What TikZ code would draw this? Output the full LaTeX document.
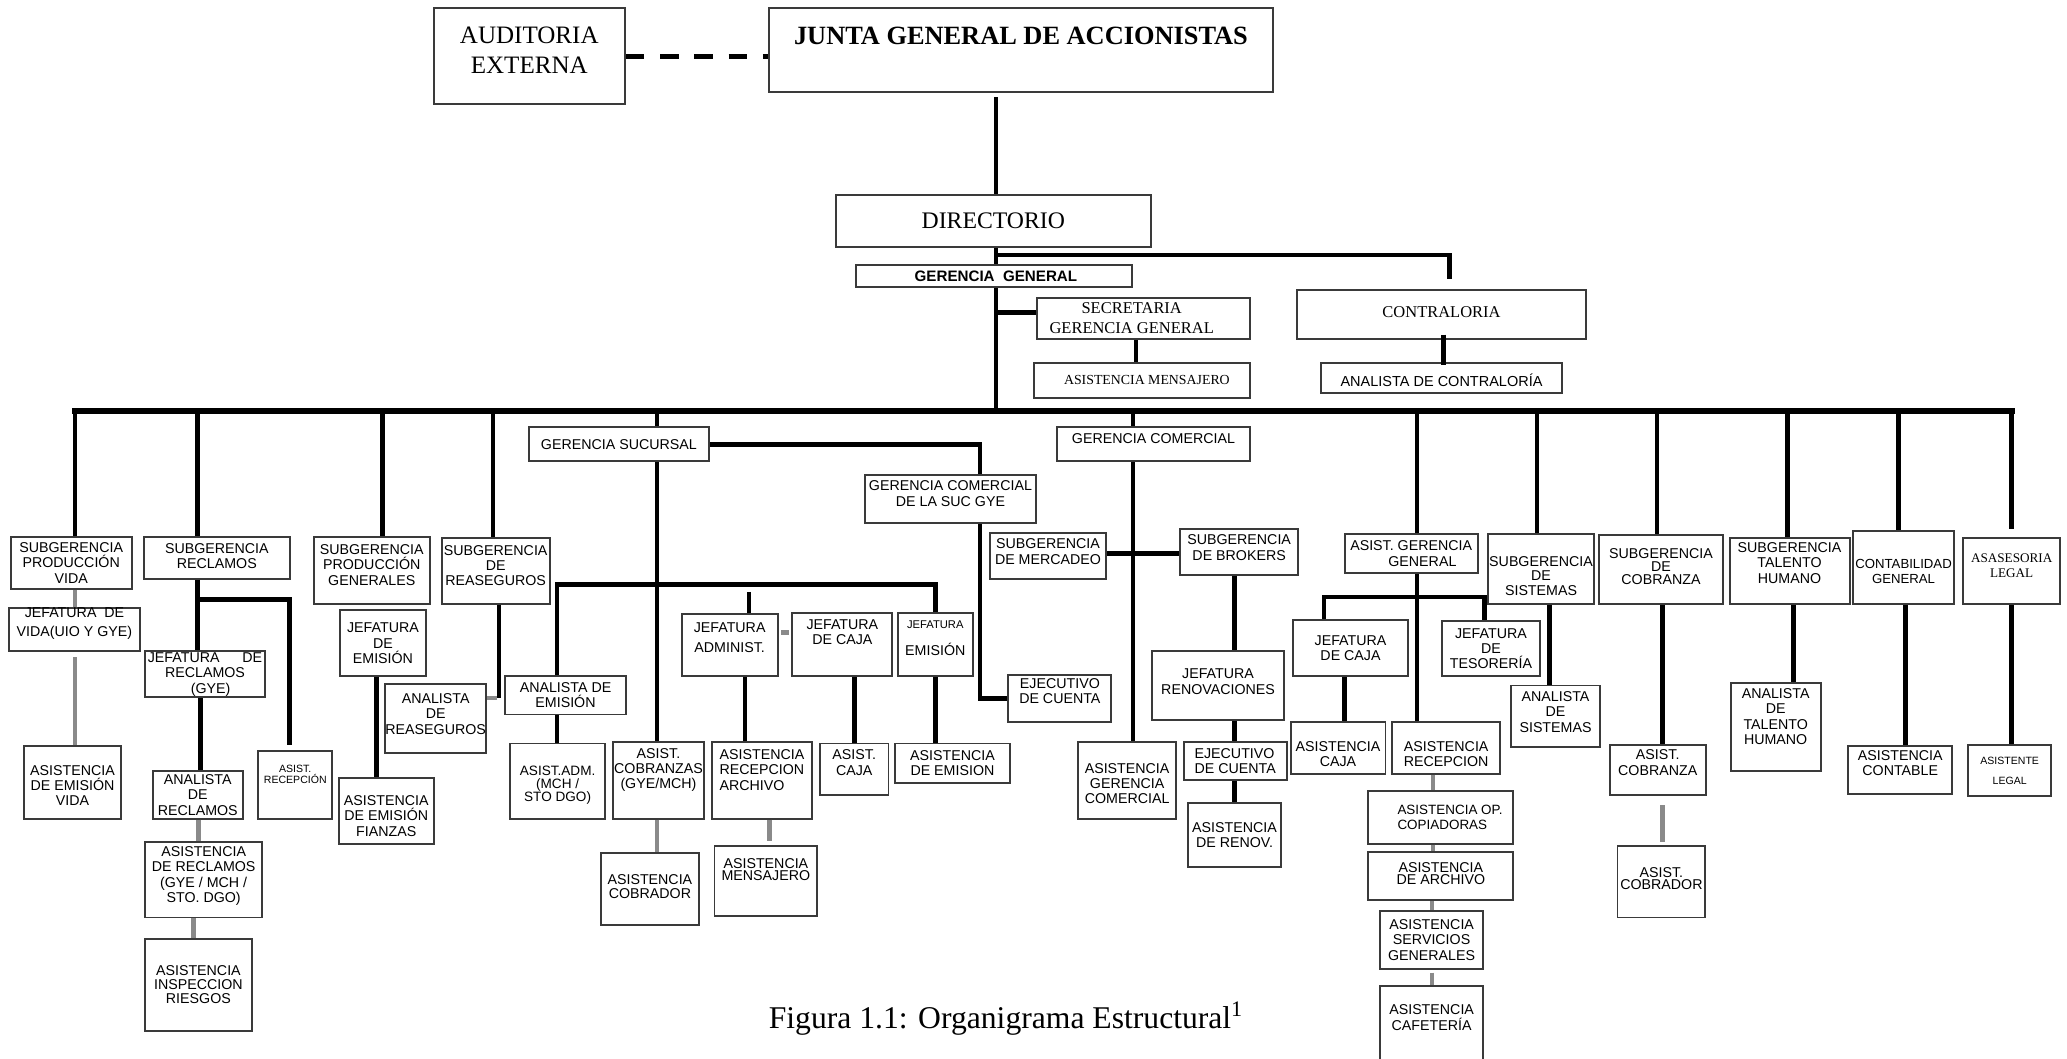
\documentclass[tikz,border=0pt]{standalone}
\usepackage{fontspec}
\setmainfont{Liberation Serif}
\setsansfont{Liberation Sans}
\definecolor{edgegray}{HTML}{3A3A3A}
\definecolor{linegray}{HTML}{8A8A8A}
\newcommand\orgsf[2]{\sffamily\fontsize{#1}{#2}\selectfont}
\newcommand\orgrm[2]{\rmfamily\fontsize{#1}{#2}\selectfont}
% \orgbox[text options]{name}{x1}{y1}{x2}{y2}{text}
\newcommand\orgbox[7][]{%
  \node[box,minimum width={#5-#3},minimum height={#6-#4}] (#2) at ({(#3+#5)/2},{(#4+#6)/2}) {};
  \node[txt,#1] (#2-t) at (#2.center) {#7};}
\begin{document}
\begin{tikzpicture}[x=1pt,y=-1pt,
  box/.style={draw=edgegray,line width=1.5pt,inner sep=0pt},
  txt/.style={inner sep=0pt,align=center,font=\orgsf{10.8}{11.6}},
  conn/.style={line width=3.5pt},
  bus/.style={line width=4.5pt,line cap=rect},
  gconn/.style={line width=3.5pt,draw=linegray}]
\fill[white] (0,0) rectangle (1568,803);
\useasboundingbox (0,0) rectangle (1568,803);

% ---------- top levels ----------
\orgbox[font=\orgrm{19}{23},yshift=4.5pt]{aud}{329}{6}{474}{79}{AUDITORIA\\EXTERNA}
\orgbox[font=\orgrm{20}{22}\bfseries,yshift=11pt]{junta}{583}{6}{966}{70}{JUNTA GENERAL DE ACCIONISTAS}
\orgbox[font=\orgrm{18}{20}]{dir}{634}{148}{873}{187}{DIRECTORIO}
\orgbox[font=\orgsf{11.5}{12}\bfseries,xshift=1.5pt]{gg}{649}{201}{859}{218}{GERENCIA\ \ GENERAL}
\orgbox[font=\orgrm{12.5}{15},xshift=-9pt]{sec}{787}{226}{948}{257}{SECRETARIA\\GERENCIA GENERAL}
\orgbox[font=\orgrm{10.5}{12},xshift=4pt]{msj}{784}{275}{948}{302}{ASISTENCIA MENSAJERO}
\orgbox[font=\orgrm{12.5}{15},yshift=1.5pt]{contra}{984}{220}{1203}{257}{CONTRALORIA}
\orgbox[font=\orgsf{11}{12},yshift=-2pt]{acontra}{1002}{275}{1185}{298}{ANALISTA DE CONTRALORÍA}

% ---------- subgerencia produccion vida ----------
\orgbox{spv}{8}{407}{100}{447}{SUBGERENCIA\\PRODUCCIÓN\\VIDA}
\orgbox[font=\orgsf{10.8}{14.5},yshift=4.5pt]{jvida}{7}{461}{106}{494}{JEFATURA\ \ DE\\VIDA(UIO Y GYE)}
\orgbox[yshift=-2.5pt]{aevida}{18}{566}{92}{621}{ASISTENCIA\\DE EMISIÓN\\VIDA}

% ---------- subgerencia reclamos ----------
\orgbox[yshift=1.4pt]{srec}{109}{407}{220}{439}{SUBGERENCIA\\RECLAMOS}
\orgbox{jrec}{110}{494}{201}{529}{JEFATURA\hspace{1.6em}DE\\RECLAMOS\\\hspace*{0.8em}(GYE)}
\orgbox[font=\orgsf{8}{8.5},yshift=8pt]{asr}{196}{570}{252}{621}{ASIST.\\RECEPCIÓN}
\orgbox{anrec}{116}{585}{184}{621}{ANALISTA\\DE\\RECLAMOS}
\orgbox[yshift=3pt]{asrec}{110}{639}{199}{696}{ASISTENCIA\\DE RECLAMOS\\(GYE / MCH /\\STO. DGO)}
\orgbox[font=\orgsf{10.8}{10.5}]{ainsp}{110}{712}{191}{782}{ASISTENCIA\\INSPECCION\\RIESGOS}

% ---------- subgerencia produccion generales ----------
\orgbox[yshift=4pt]{spg}{238}{407}{326}{458}{SUBGERENCIA\\PRODUCCIÓN\\GENERALES}
\orgbox{jem}{258}{463}{323}{513}{JEFATURA\\DE\hspace*{1.2em}\\EMISIÓN}
\orgbox[yshift=-4pt]{aefz}{257}{590}{329}{640}{ASISTENCIA\\DE EMISIÓN\\FIANZAS}

% ---------- subgerencia reaseguros ----------
\orgbox[yshift=4pt]{srea}{335}{408}{417}{458}{SUBGERENCIA\\DE\\REASEGUROS}
\orgbox[yshift=3.5pt]{anrea}{292}{519}{369}{571}{ANALISTA\\DE\\REASEGUROS}

% ---------- gerencia sucursal ----------
\orgbox{gs}{401}{324}{538}{350}{GERENCIA SUCURSAL}
\orgbox[yshift=4pt]{gcsuc}{656}{360}{786}{397}{GERENCIA COMERCIAL\\DE LA SUC GYE}
\orgbox[yshift=6pt]{ejec1}{765}{512}{843}{548}{EJECUTIVO\\DE CUENTA}
\orgbox{janal}{383}{513}{475}{542}{ANALISTA DE\\EMISIÓN}
\orgbox[font=\orgsf{10.8}{15},yshift=5.5pt]{jadm}{517}{466}{590}{513}{JEFATURA\\ADMINIST.}
\orgbox[yshift=9.5pt]{jcaja}{601}{465}{677}{513}{JEFATURA\\DE CAJA}
\orgbox[yshift=5pt]{jemi}{681}{465}{738}{513}{{\orgsf{8.5}{9}JEFATURA}\\[9pt]EMISIÓN}
\orgbox[font=\orgsf{10.3}{10},yshift=-3pt]{asadm}{387}{564}{459}{621}{ASIST.ADM.\\(MCH /\\STO DGO)}
\orgbox[yshift=8pt]{ascob}{465}{563}{534}{621}{ASIST.\\COBRANZAS\\(GYE/MCH)}
\orgbox[align=left,yshift=8pt]{asrecarch}{540}{563}{616}{621}{ASISTENCIA\\RECEPCION\\ARCHIVO}
\orgbox[yshift=5pt]{ascaja}{622}{564}{674}{603}{ASIST.\\CAJA}
\orgbox{asemi}{679}{564}{766}{594}{ASISTENCIA\\DE EMISION}
\orgbox[font=\orgsf{10.8}{10},yshift=2pt]{ascobr}{456}{647}{530}{702}{ASISTENCIA\\COBRADOR}
\orgbox[font=\orgsf{10.8}{9.5},yshift=9pt]{asmens}{542}{642}{620}{695}{ASISTENCIA\\MENSAJERO}

% ---------- gerencia comercial ----------
\orgbox[yshift=4pt]{gc}{802}{324}{948}{350}{GERENCIA COMERCIAL}
\orgbox[yshift=3pt]{smerc}{751}{404}{839}{439}{SUBGERENCIA\\DE MERCADEO}
\orgbox[yshift=3pt]{sbrok}{895}{401}{985}{436}{SUBGERENCIA\\DE BROKERS}
\orgbox[font=\orgsf{10.8}{12.4},yshift=3pt]{jren}{874}{494}{974}{546}{JEFATURA\\RENOVACIONES}
\orgbox[align=left]{ejec2}{898}{563}{976}{592}{EJECUTIVO\\DE CUENTA}
\orgbox{asrenov}{901}{609}{972}{658}{ASISTENCIA\\DE RENOV.}
\orgbox[yshift=-2.5pt]{agc}{818}{563}{892}{621}{ASISTENCIA\\GERENCIA\\COMERCIAL}

% ---------- asistencia gerencia general ----------
\orgbox{asgg}{1020}{405}{1121}{435}{ASIST. GERENCIA\\\hspace*{17pt}GENERAL}
\orgbox{jcaja2}{981}{470}{1068}{513}{JEFATURA\\DE CAJA}
\orgbox{jtes}{1094}{471}{1168}{513}{JEFATURA\\DE\\TESORERÍA}
\orgbox[yshift=-4.5pt]{ascaja2}{979}{548}{1051}{587}{ASISTENCIA\\CAJA}
\orgbox[yshift=-4.5pt]{asrecep}{1056}{548}{1138}{587}{ASISTENCIA\\RECEPCION}
\orgbox[font=\orgsf{10.2}{12},align=left,xshift=7pt]{asop}{1038}{600}{1148}{640}{ASISTENCIA OP.\\COPIADORAS}
\orgbox[font=\orgsf{10.8}{9},yshift=2pt]{asarch}{1038}{646}{1148}{683}{ASISTENCIA\\DE ARCHIVO}
\orgbox{asserv}{1047}{691}{1125}{735}{ASISTENCIA\\SERVICIOS\\GENERALES}
\orgbox[yshift=5pt]{ascaf}{1047}{748}{1125}{806}{ASISTENCIA\\CAFETERÍA}

% ---------- remaining subgerencias ----------
\orgbox[font=\orgsf{10.8}{11},yshift=-5.5pt]{ssis}{1129}{405}{1209}{458}{SUBGERENCIA\\DE\\SISTEMAS}
\orgbox[yshift=3.5pt]{ansis}{1146}{520}{1214}{567}{ANALISTA\\DE\\SISTEMAS}
\orgbox[font=\orgsf{10.8}{9.8},yshift=2.5pt]{scob}{1213}{406}{1307}{458}{SUBGERENCIA\\DE\\COBRANZA}
\orgbox[yshift=5.6pt]{ascobz}{1221}{565}{1294}{603}{ASIST.\\COBRANZA}
\orgbox[font=\orgsf{10.8}{9},yshift=2.5pt]{ascobrd}{1227}{642}{1293.6}{696}{ASIST.\\COBRADOR}
\orgbox[yshift=6pt]{stal}{1312}{408}{1403}{458}{SUBGERENCIA\\TALENTO\\HUMANO}
\orgbox[yshift=8pt]{antal}{1313}{518}{1381}{585}{ANALISTA\\DE\\TALENTO\\HUMANO}
\orgbox[font=\orgsf{10}{11},yshift=-3pt]{cont}{1406}{403}{1482}{458}{CONTABILIDAD\\GENERAL}
\orgbox[yshift=5pt]{ascont}{1402}{566}{1481}{602}{ASISTENCIA\\CONTABLE}
\orgbox[font=\orgrm{10}{11.5},yshift=4pt]{ases}{1489}{408}{1563}{458}{ASASESORIA\\LEGAL}
\orgbox[font=\orgsf{8}{15}]{aslegal}{1493}{565}{1556}{604}{ASISTENTE\\LEGAL}

% ---------- connectors: top ----------
\coordinate (dsh) at (0,42.5);
\draw[line width=3.8pt,dash pattern=on 14pt off 12pt] (aud.east |- dsh) -- (junta.west |- dsh);
\coordinate (sp) at (755.6,312);
\draw[conn,shorten <=3pt] (sp |- junta.south) -- (sp |- dir.north);
\draw[conn] (sp |- dir.south) -- (sp |- gg.north);
\draw[conn] (sp |- gg.south) -- (sp);
\coordinate (cth) at (0,193.5);
\coordinate (ct) at (1099.6,212);
\draw[conn] (sp |- cth) -| (ct);
\coordinate (sbr) at (0,237);
\draw[conn] (sp |- sbr) -- (sec.west |- sbr);
\coordinate (smx) at (861.7,0);
\draw[conn] (smx |- sec.south) -- (smx |- msj.north);
\coordinate (cmx) at (1094.8,0);
\draw[conn,shorten <=-4pt,shorten >=-3pt] (cmx |- contra.south) -- (cmx |- acontra.north);

% ---------- main bus and drops ----------
\coordinate (busL) at (57,312);
\coordinate (busR) at (1526,312);
\draw[bus] (busL) -- (busR);
\coordinate (d1) at (57,312);
\coordinate (d2) at (150,312);
\coordinate (d3) at (290,312);
\coordinate (d4) at (374,312);
\coordinate (d5) at (498.4,312);
\coordinate (d6) at (859.5,312);
\coordinate (d7) at (1075,312);
\coordinate (d8) at (1166,312);
\coordinate (d9) at (1257,312);
\coordinate (d10) at (1356,312);
\coordinate (d11) at (1440,312);
\coordinate (d12) at (1526,312);
\draw[conn] (d1) -- (d1 |- spv.north);
\draw[conn] (d2) -- (d2 |- srec.north);
\draw[conn] (d3) -- (d3 |- spg.north);
\draw[conn] (d4) -- (d4 |- srea.north);
\draw[conn] (d5) -- (d5 |- gs.north);
\draw[conn] (d6) -- (d6 |- gc.north);
\draw[conn] (d7) -- (d7 |- asgg.north);
\draw[conn] (d8) -- (d8 |- ssis.north);
\draw[conn] (d9) -- (d9 |- scob.north);
\draw[conn] (d10) -- (d10 |- stal.north);
\draw[conn] (d11) -- (d11 |- cont.north);
\draw[conn,shorten >=6pt] (d12) -- (d12 |- ases.north);

% ---------- column: produccion vida ----------
\coordinate (k1) at (57,0);
\draw[gconn] (k1 |- spv.south) -- (k1 |- jvida.north);
\draw[gconn,shorten <=4pt] (k1 |- jvida.south) -- (k1 |- aevida.north);

% ---------- column: reclamos ----------
\coordinate (k2) at (150,0);
\draw[conn] (k2 |- srec.south) -- (k2 |- jrec.north);
\coordinate (b2) at (219.4,454.6);
\draw[conn,shorten >=4pt] (k2 |- b2) -- (b2) -- (b2 |- asr.north);
\coordinate (k3) at (152.3,0);
\draw[conn] (k3 |- jrec.south) -- (k3 |- anrec.north);
\coordinate (k4) at (150.4,0);
\draw[gconn] (k4 |- anrec.south) -- (k4 |- asrec.north);
\coordinate (k5) at (146.8,0);
\draw[gconn] (k5 |- asrec.south) -- (k5 |- ainsp.north);

% ---------- column: produccion generales ----------
\coordinate (k6) at (285.8,0);
\draw[conn] (k6 |- jem.south) -- (k6 |- aefz.north);

% ---------- column: reaseguros ----------
\coordinate (r4) at (378.5,529.5);
\draw[gconn,shorten >=1.75pt] (r4 -| anrea.east) -- (r4);
\draw[conn] (r4 |- srea.south) -- (r4);

% ---------- column: gerencia sucursal ----------
\coordinate (gsx) at (498.4,0);
\draw[conn] (gsx |- gs.south) -- (gsx |- ascob.north);
\coordinate (q) at (743.4,0);
\draw[conn] (gs.east) -| (q |- gcsuc.north);
\draw[conn] (q |- gcsuc.south) |- (ejec1.west);
\coordinate (bl) at (422.6,443.3);
\coordinate (br) at (709.8,443.3);
\draw[conn] (bl |- janal.north) -- (bl) -- (br) -- (br |- jemi.north);
\coordinate (st) at (568.2,449);
\draw[conn] (st) -- (st |- jadm.north);
\coordinate (gd) at (0,480);
\draw[gconn,shorten <=2pt,shorten >=1.5pt] (jadm.east |- gd) -- (jcaja.west |- gd);
\draw[conn] (bl |- janal.south) -- (bl |- asadm.north);
\coordinate (k7) at (565,0);
\draw[conn] (k7 |- jadm.south) -- (k7 |- asrecarch.north);
\coordinate (k8) at (648,0);
\draw[conn] (k8 |- jcaja.south) -- (k8 |- ascaja.north);
\draw[conn] (br |- jemi.south) -- (br |- asemi.north);
\draw[gconn] (gsx |- ascob.south) -- (gsx |- ascobr.north);
\coordinate (k9) at (583.8,0);
\draw[gconn,shorten >=3pt] (k9 |- asrecarch.south) -- (k9 |- asmens.north);

% ---------- column: gerencia comercial ----------
\coordinate (gcx) at (859.5,0);
\draw[conn] (gcx |- gc.south) -- (gcx |- agc.north);
\coordinate (hm) at (0,419.7);
\draw[conn] (smerc.east |- hm) -- (sbrok.west |- hm);
\coordinate (k10) at (936.5,0);
\draw[conn] (k10 |- sbrok.south) -- (k10 |- jren.north);
\draw[conn] (k10 |- jren.south) -- (k10 |- ejec2.north);
\draw[conn] (k10 |- ejec2.south) -- (k10 |- asrenov.north);

% ---------- column: asistencia gerencia general ----------
\coordinate (ax) at (1075,0);
\draw[conn] (ax |- asgg.south) -- (ax |- asrecep.north);
\coordinate (jl) at (1004.4,453);
\coordinate (jr) at (1126,453);
\draw[conn] (jl |- jcaja2.north) -- (jl) -- (jr) -- (jr |- jtes.north);
\coordinate (k11) at (1020,0);
\draw[conn] (k11 |- jcaja2.south) -- (k11 |- ascaja2.north);
\coordinate (k12) at (1087,0);
\draw[gconn] (k12 |- asrecep.south) -- (k12 |- asop.north);
\draw[gconn] (k12 |- asop.south) -- (k12 |- asarch.north);
\coordinate (k12b) at (1086.3,0);
\draw[gconn] (k12b |- asarch.south) -- (k12b |- asserv.north);
\draw[gconn,shorten <=2pt] (k12b |- asserv.south) -- (k12b |- ascaf.north);

% ---------- remaining columns ----------
\coordinate (k13) at (1175.4,0);
\draw[conn] (k13 |- ssis.south) -- (k13 |- ansis.north);
\coordinate (k14) at (1261.3,0);
\draw[conn] (k14 |- scob.south) -- (k14 |- ascobz.north);
\draw[gconn,shorten <=7pt,shorten >=2.5pt] (k14 |- ascobz.south) -- (k14 |- ascobrd.north);
\coordinate (k15) at (1360.6,0);
\draw[conn] (k15 |- stal.south) -- (k15 |- antal.north);
\coordinate (k16) at (1445.6,0);
\draw[conn] (k16 |- cont.south) -- (k16 |- ascont.north);
\coordinate (k17) at (1526,0);
\draw[conn] (k17 |- ases.south) -- (k17 |- aslegal.north);

% ---------- caption ----------
\node[inner sep=0pt,anchor=base west,font=\orgrm{24}{26}] (caption) at (583,780)
  {Figura 1.1: Organigrama Estructural\textsuperscript{1}};
\end{tikzpicture}
\end{document}
